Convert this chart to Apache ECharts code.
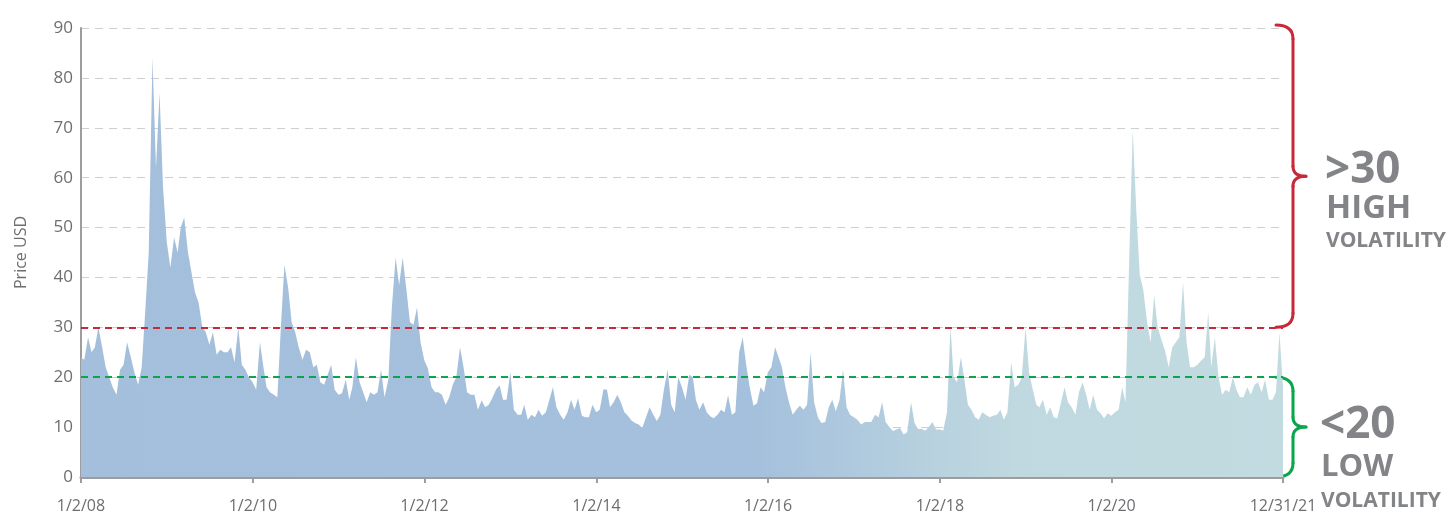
<!DOCTYPE html>
<html>
<head>
<meta charset="utf-8">
<script src="https://cdn.jsdelivr.net/npm/echarts@6/dist/echarts.min.js"></script>
<style>html,body{margin:0;padding:0;background:#fff}#c{width:1454px;height:518px}</style>
</head>
<body>
<div id="c"></div>
<script>
// Semi-monthly readings (1st and 16th of each month), VIX level
const v2008 = [24, 23.5, 28, 25, 26, 30, 26, 22, 20, 18, 16.5, 21.5, 22.5, 27, 24, 21, 18.5, 22, 33, 45, 84, 62, 77, 58];
const v2009 = [47, 42, 48, 45, 50, 52, 45, 41, 37, 35, 30, 29, 26.5, 29, 24.5, 25.5, 25, 25, 26, 23, 30, 22.5, 21.5, 20];
const v2010 = [19, 17.5, 27, 22, 18, 17, 16.5, 16, 30, 42.5, 38, 31, 29, 26, 23.5, 25.5, 25, 22, 22.5, 19, 18.5, 20.5, 22.5, 17.5];
const v2011 = [16.5, 16.8, 19.5, 15.5, 18, 24, 19, 17, 15, 17, 16.5, 17, 21.5, 16, 19.5, 34, 44, 38.5, 44, 38, 31, 30.5, 34, 27];
const v2012 = [23.4, 21.8, 18, 17, 17, 16.5, 14.5, 16, 18.5, 20, 26, 22, 17, 16.5, 16.5, 13.5, 15.4, 14, 14.5, 15.8, 17.5, 18.4, 15.5, 15.5];
const v2013 = [21, 13.5, 12.5, 12.5, 14.5, 11.5, 12.5, 12, 13.5, 12.3, 13, 15.5, 18, 14, 12.5, 11.5, 13, 15.5, 13.5, 15.8, 12.3, 12, 12, 14.5];
const v2014 = [13, 13.5, 17.6, 17.5, 14, 15, 16.5, 15, 13, 12.3, 11.3, 10.8, 10.5, 9.8, 12, 14, 12.5, 11.2, 12.5, 17.5, 21.5, 14.5, 13, 20];
const v2015 = [18, 15.5, 20.5, 20, 15.5, 13.5, 15, 13, 12.2, 11.8, 12.5, 13.5, 13, 16.4, 12.5, 13, 25, 28, 22.5, 18, 14.3, 14.8, 18, 17];
const v2016 = [21, 22, 26, 24, 22, 18, 14.8, 12.5, 13.5, 14.3, 13.5, 14.5, 25, 15, 12, 10.8, 11, 14, 15.5, 13.2, 15.5, 21.5, 14, 12.5];
const v2017 = [12, 11.5, 10.5, 11, 11, 11, 12.5, 12, 15, 11, 10, 9.2, 9.5, 9.8, 8.5, 9, 15, 10.8, 9.6, 9.6, 9.3, 10, 11, 9.5];
const v2018 = [9.5, 9.3, 13, 30, 20, 19, 24, 19.5, 14.5, 13.5, 12, 11.5, 13, 12.5, 12, 12.3, 12.5, 13.5, 11.5, 13, 23, 18, 18.5, 20];
const v2019 = [30, 21, 17.5, 14.5, 14, 15.5, 12.5, 14, 12, 11.8, 15, 18, 15, 14, 12.5, 17, 19, 16.5, 13.5, 16.5, 13.5, 12.8, 11.8, 12.8];
const v2020 = [12.3, 13, 13.5, 18, 15, 42, 69.5, 53.5, 40.5, 37.5, 31, 27, 36.5, 30, 27.5, 25.4, 22, 26, 27, 28, 39, 27, 22, 22];
const v2021 = [22.5, 23.3, 24, 33, 22, 28, 20, 16.5, 17.5, 17, 20, 17.5, 16, 16, 18, 16.5, 18.5, 19, 17, 19.5, 15.5, 15.5, 17, 29];
const years = [2008, 2009, 2010, 2011, 2012, 2013, 2014, 2015, 2016, 2017, 2018, 2019, 2020, 2021];
const yearValues = [v2008, v2009, v2010, v2011, v2012, v2013, v2014, v2015, v2016, v2017, v2018, v2019, v2020, v2021];
const lastDate = '2021-12-31';
const lastValue = 18;

const xTickDates = ['2008-01-02', '2010-01-02', '2012-01-02', '2014-01-02', '2016-01-02', '2018-01-02', '2020-01-02', '2021-12-31'];
const xTickLabels = ['1/2/08', '1/2/10', '1/2/12', '1/2/14', '1/2/16', '1/2/18', '1/2/20', '12/31/21'];
const highThreshold = 30;
const lowThreshold = 20;
const yMax = 90;

function ts(s) { const p = s.split('-'); return Date.UTC(+p[0], +p[1] - 1, +p[2]); }
const data = [];
years.forEach((y, k) => yearValues[k].forEach((v, i) => {
  data.push([Date.UTC(y, Math.floor(i / 2), i % 2 ? 16 : 1), v]);
}));
data.push([ts(lastDate), lastValue]);
const tickTs = xTickDates.map(ts);

const chart = echarts.init(document.getElementById('c'), null, { renderer: 'canvas' });
const labelColor = '#6d6e71';
chart.setOption({
  animation: false,
  grid: { left: 81, right: 171, top: 28, bottom: 41 },
  xAxis: {
    type: 'value',
    min: ts(xTickDates[0]),
    max: ts(xTickDates[xTickDates.length - 1]),
    axisLine: { show: true, lineStyle: { color: '#9d9d9d', width: 3 } },
    axisTick: { show: true, customValues: tickTs, length: 6, lineStyle: { color: '#9d9d9d', width: 2 } },
    axisLabel: {
      customValues: tickTs,
      margin: 21,
      fontSize: 16,
      color: labelColor,
      fontFamily: 'Open Sans',
      formatter: (val) => { const i = tickTs.indexOf(val); return i >= 0 ? xTickLabels[i] : ''; }
    },
    splitLine: { show: false }
  },
  yAxis: {
    type: 'value',
    min: 0, max: yMax, interval: 10,
    name: 'Price USD',
    nameLocation: 'middle',
    nameGap: 52,
    nameTextStyle: { fontSize: 16, color: labelColor, fontFamily: 'Open Sans' },
    axisLine: { show: true, lineStyle: { color: '#9d9d9d', width: 2 } },
    axisTick: { show: false },
    axisLabel: { fontSize: 17, color: labelColor, margin: 8, fontFamily: 'Open Sans' },
    splitLine: { show: true, lineStyle: { color: '#cfcfcf', type: [8, 6], width: 1 } }
  },
  series: [{
    type: 'line',
    data: data,
    symbol: 'none',
    showSymbol: false,
    lineStyle: { width: 0 },
    areaStyle: {
      opacity: 1,
      color: new echarts.graphic.LinearGradient(0, 0, 1, 0, [
        { offset: 0, color: '#a3bfdb' },
        { offset: 0.56, color: '#a4c0dc' },
        { offset: 0.78, color: '#c0d9e0' },
        { offset: 1, color: '#c2dbe1' }
      ])
    },
    markLine: {
      silent: true,
      symbol: ['none', 'none'],
      label: { show: false },
      data: [
        { yAxis: highThreshold, lineStyle: { color: '#c8283a', type: [7, 5], width: 2 } },
        { yAxis: lowThreshold, lineStyle: { color: '#0aa64b', type: [7, 5], width: 2 } }
      ]
    }
  }]
});

function py(v) { return chart.convertToPixel({ yAxisIndex: 0 }, v); }
function brace(yTop, yBot, color) {
  const xa = 1276, xv = 1293, xm = 1306, r = 14, ym = (yTop + yBot) / 2;
  const st = { stroke: color, lineWidth: 3, fill: 'none', lineCap: 'round' };
  return [
    { type: 'bezierCurve', shape: { x1: xa, y1: yTop, cpx1: xv, cpy1: yTop, x2: xv, y2: yTop + r }, style: st },
    { type: 'line', shape: { x1: xv, y1: yTop + r, x2: xv, y2: ym - 10 }, style: st },
    { type: 'bezierCurve', shape: { x1: xv, y1: ym - 10, cpx1: xv, cpy1: ym, x2: xm, y2: ym }, style: st },
    { type: 'bezierCurve', shape: { x1: xm, y1: ym, cpx1: xv, cpy1: ym, x2: xv, y2: ym + 10 }, style: st },
    { type: 'line', shape: { x1: xv, y1: ym + 10, x2: xv, y2: yBot - r }, style: st },
    { type: 'bezierCurve', shape: { x1: xv, y1: yBot - r, cpx1: xv, cpy1: yBot, x2: xa, y2: yBot }, style: st }
  ];
}
function txt(text, x, y, size) {
  return { type: 'text', style: { text: text, x: x, y: y, fill: '#838487', fontSize: size, fontWeight: 'bold', fontFamily: 'Open Sans', align: 'left', verticalAlign: 'middle' } };
}
const els = []
  .concat(brace(py(yMax) - 3, py(highThreshold), '#c8283a'))
  .concat(brace(py(lowThreshold), py(0), '#0aa64b'))
  .concat([
    txt('>30', 1325, 170, 44),
    txt('HIGH', 1326, 209, 33),
    txt('VOLATILITY', 1326, 241, 21),
    txt('<20', 1320, 425, 44),
    txt('LOW', 1321, 467, 31),
    txt('VOLATILITY', 1321, 501, 21)
  ]);
chart.setOption({ graphic: { elements: els } });
</script>
</body>
</html>
